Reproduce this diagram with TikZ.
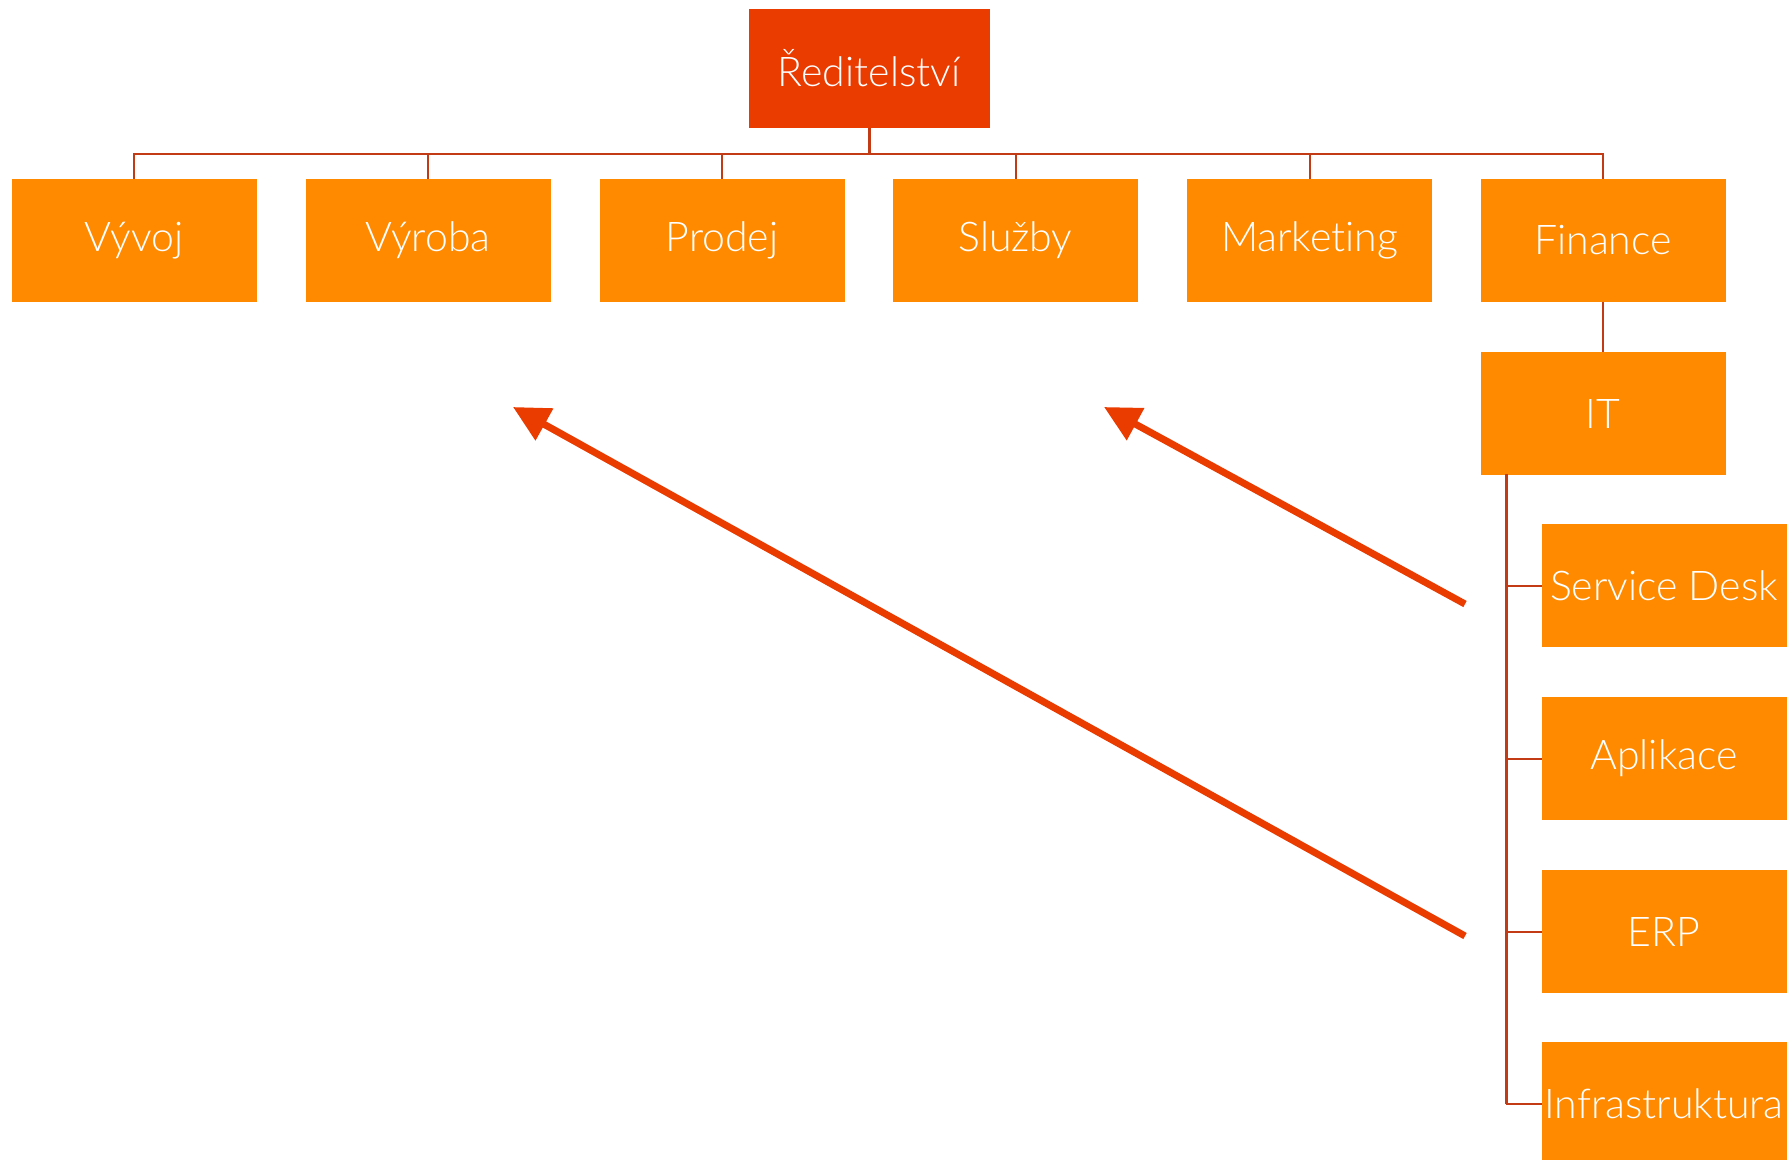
\documentclass[tikz,border=0pt]{standalone}
\usepackage{fontspec}
\setmainfont{Lato}[UprightFont={* Light}, Ligatures=NoCommon]
\usetikzlibrary{positioning,arrows.meta}
\definecolor{cervena}{HTML}{EA3B00}
\definecolor{oranzova}{HTML}{FF8A00}
\definecolor{linka}{HTML}{C23B14}

\begin{document}
\begin{tikzpicture}[x=0.5pt,y=-0.5pt,node distance=25pt,
    krabice/.style={rectangle, fill=oranzova, text=white, inner sep=0pt, outer sep=0pt,
        minimum width=122.5pt, minimum height=61.5pt, font=\fontsize{20.5}{24}\selectfont},
    spoj/.style={draw=linka, line width=1pt},
    sipka/.style={draw=cervena, line width=3.5pt, -{Triangle[length=18pt,width=17.5pt]}}]
\useasboundingbox (0,0) rectangle (1788,1160);

    \node (reditelstvi) [krabice, fill=cervena, minimum width=120.5pt, minimum height=59.5pt] at (869,68.5) {Ředitelství};

    \node (vyvoj) [krabice] at (134,240.5) {Vývoj};
    \node (vyroba) [krabice] at (428,240.5) {Výroba};
    \node (prodej) [krabice] at (722,240.5) {Prodej};
    \node (sluzby) [krabice] at (1015.5,240.5) {Služby};
    \node (marketing) [krabice] at (1309.5,240.5) {Marketing};
    \node (finance) [krabice] at (1603,240.5) {Finance};

    \node (it) [krabice, below=of finance] {IT};
    \node (servicedesk) [krabice] at (1664,585.5) {Service Desk};
    \node (aplikace) [krabice, below=of servicedesk] {Aplikace};
    \node (erp) [krabice, below=of aplikace] {ERP};
    \node (infra) [krabice, below=24.5pt of erp] {Infrastruktura};

    \coordinate (sbernice) at (869,154);
    \coordinate (itlinka) at (1506,474);

    % hlavni vetveni
    \draw[spoj, line width=1.5pt] (reditelstvi.south) -- (sbernice);
    \draw[spoj] (vyvoj.north) |- (sbernice) -| (finance.north);
    \foreach \oddeleni in {vyroba,prodej,sluzby,marketing}
        \draw[spoj] (\oddeleni.north) -- (\oddeleni.north |- sbernice);
    \draw[spoj] (finance) -- (it);

    % IT
    \draw[spoj, line width=1.5pt] (itlinka) -- (itlinka |- infra.west);
    \foreach \oddeleni in {servicedesk,aplikace,erp,infra}
        \draw[spoj] (itlinka |- \oddeleni.west) -- (\oddeleni.west);

    \coordinate (sdkonec) at (1465,604);
    \coordinate (sluzbyhrot) at (1104,407);
    \coordinate (erpkonec) at (1465,936);
    \coordinate (vyrobahrot) at (513,407);
    \draw[sipka] (sdkonec) -- (sluzbyhrot);
    \draw[sipka] (erpkonec) -- (vyrobahrot);
\end{tikzpicture}
\end{document}
